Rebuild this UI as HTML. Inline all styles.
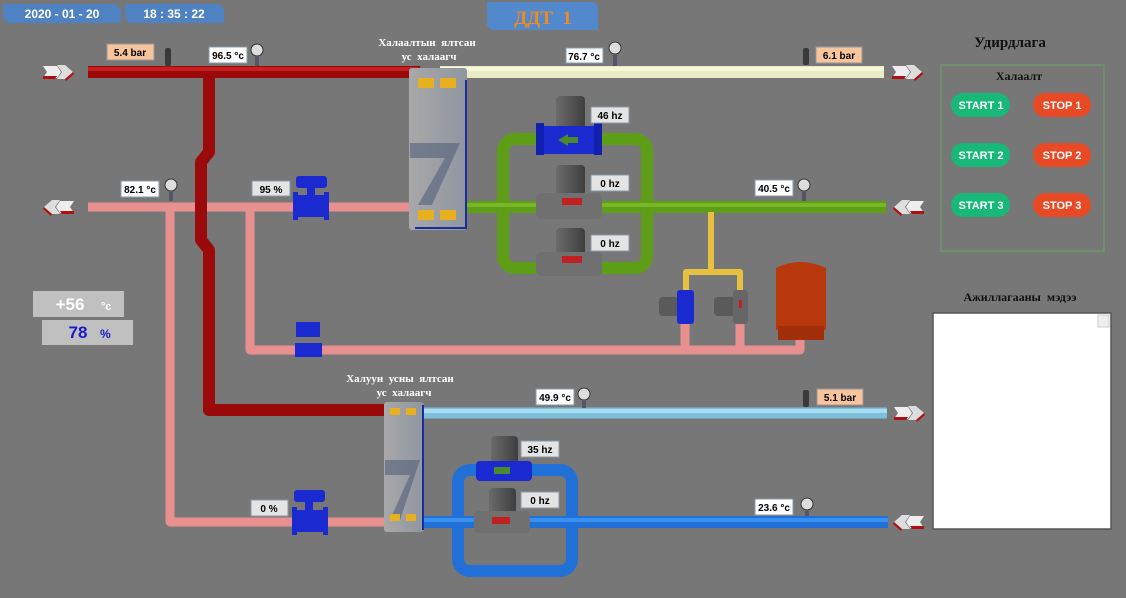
<!DOCTYPE html>
<html><head><meta charset="utf-8"><style>
html,body{margin:0;padding:0;background:#777;}
svg{display:block}
text{font-family:"Liberation Sans",sans-serif}
.s{font-family:"Liberation Serif",serif;font-weight:bold}
</style></head><body>
<svg width="1126" height="598" viewBox="0 0 1126 598" xmlns="http://www.w3.org/2000/svg">
<defs>
<linearGradient id="hx" x1="0" y1="0" x2="1" y2="0"><stop offset="0" stop-color="#a8a8a8"/><stop offset="1" stop-color="#8f96a0"/></linearGradient>
<linearGradient id="cyl" x1="0" y1="0" x2="1" y2="0"><stop offset="0" stop-color="#6a6a6a"/><stop offset="0.5" stop-color="#555"/><stop offset="1" stop-color="#3e3e3e"/></linearGradient>
<g id="ar">
<path d="M0 -6 H14 L18 0 L14 6 H0 L4 0Z" fill="#eee"/>
<path d="M14 -7 H22 L30 0 L22 7 H14 L19 0Z" fill="#ddd"/>
<path d="M0 4 H14 L12 7 H0Z" fill="#b01010"/>
<path d="M22 7 L30 0 L31 2 L23 9Z" fill="#b01010"/>
</g>
</defs>
<rect width="1126" height="598" fill="#777"/>

<path d="M3 4 H116 L121 9 V23 H8 L3 18Z" fill="#4f82c2"/>
<text x="62" y="18" text-anchor="middle" font-size="12" font-weight="bold" fill="#fff" xml:space="preserve">2020 - 01 - 20</text>
<path d="M125 4 H220 L224 9 V23 H130 L125 18Z" fill="#4f82c2"/>
<text x="174" y="18" text-anchor="middle" font-size="12" font-weight="bold" fill="#fff" xml:space="preserve">18 : 35 : 22</text>
<path d="M487 2 H594 L598 6 V30 H492 L487 26Z" fill="#5288cc"/>
<text x="543" y="24" text-anchor="middle" font-size="19" font-weight="bold" fill="#f28a1c" class="s" xml:space="preserve">ДДТ  1</text>

<text x="427" y="46" text-anchor="middle" font-size="11" class="s" fill="#fff" xml:space="preserve">Халаалтын  ялтсан</text>
<text x="429" y="60" text-anchor="middle" font-size="11" class="s" fill="#fff" xml:space="preserve">ус  халаагч</text>
<text x="400" y="382" text-anchor="middle" font-size="11" class="s" fill="#fff" xml:space="preserve">Халуун  усны  ялтсан</text>
<text x="404" y="396" text-anchor="middle" font-size="11" class="s" fill="#fff" xml:space="preserve">ус  халаагч</text>

<g stroke="#e89090" stroke-width="9" fill="none" stroke-linejoin="round">
<path d="M88 207 H420"/>
<path d="M170 207 V522 H395"/>
<path d="M250 207 V350 H800 V335"/>
<path d="M685 350 V320"/><path d="M740 350 V320"/>
</g>
<g stroke="#9a0a0a" stroke-width="12" fill="none" stroke-linejoin="round">
<path d="M88 72 H420"/>
<path d="M209 72 V152 L201 162 V240 L209 250 V410 H405"/>
</g>
<path d="M88 69 H418" stroke="#c42020" stroke-width="4"/>
<path d="M440 72 H884" stroke="#e8ecc4" stroke-width="12"/>
<path d="M440 69 H884" stroke="#f6f8dc" stroke-width="4"/>

<g stroke="#5e9e16" stroke-width="12" fill="none" stroke-linejoin="round">
<path d="M445 207 H886"/>
<rect x="503" y="139" width="144" height="129" rx="12"/>
</g>
<path d="M445 205 H886" stroke="#78b828" stroke-width="4"/>
<g stroke="#e8c040" stroke-width="6" fill="none" stroke-linejoin="round"><path d="M711 212 V272"/><path d="M686 295 V272 H740 V295"/></g>

<path d="M405 413 H887" stroke="#7ec0dc" stroke-width="11"/>
<path d="M405 411 H887" stroke="#a8dcf0" stroke-width="4"/>
<g stroke="#2070d8" stroke-width="12" fill="none"><path d="M410 522 H888"/><rect x="458" y="470" width="114" height="101" rx="12"/></g>
<path d="M410 520 H888" stroke="#3a90f0" stroke-width="4"/>

<rect x="409" y="68" width="58" height="162" rx="3" fill="url(#hx)"/>
<path d="M466 80 V228 H415" stroke="#1a2aa0" stroke-width="2" fill="none"/>
<path d="M410 143 H460 L432 205 H418 L445 158 H410Z" fill="#5d6a80" opacity="0.7"/>
<g fill="#e8b020"><rect x="418" y="78" width="16" height="10"/><rect x="440" y="78" width="16" height="10"/><rect x="418" y="210" width="16" height="10"/><rect x="440" y="210" width="16" height="10"/></g>
<rect x="384" y="402" width="40" height="130" rx="3" fill="url(#hx)"/>
<path d="M423 405 V530" stroke="#1a2aa0" stroke-width="2"/>
<path d="M385 460 H420 L400 520 H390 L410 475 H385Z" fill="#5d6a80" opacity="0.7"/>
<g fill="#e8b020"><rect x="390" y="408" width="10" height="7"/><rect x="406" y="408" width="10" height="7"/><rect x="390" y="514" width="10" height="7"/><rect x="406" y="514" width="10" height="7"/></g>

<path d="M776 268 Q800 256 826 268 V330 H776Z" fill="#b8380c"/>
<rect x="778" y="326" width="46" height="14" fill="#a02e08"/>

<rect x="556" y="96" width="29" height="34" rx="4" fill="url(#cyl)"/>
<rect x="536" y="126" width="64" height="28" rx="5" fill="#1a2ad0"/>
<rect x="536" y="123" width="8" height="32" fill="#1220b0"/><rect x="594" y="123" width="8" height="32" fill="#1220b0"/>
<path d="M558 140 L568 134 V146Z M566 137 H578 V143 H566Z" fill="#4a8a2a"/>
<rect x="556" y="165" width="29" height="30" rx="4" fill="url(#cyl)"/>
<rect x="536" y="193" width="66" height="26" rx="5" fill="#707070"/>
<path d="M562 198 H582 V205 H562Z" fill="#c02020"/>
<rect x="556" y="228" width="29" height="28" rx="4" fill="url(#cyl)"/>
<rect x="536" y="252" width="66" height="24" rx="5" fill="#707070"/>
<path d="M562 256 H582 V263 H562Z" fill="#c02020"/>
<rect x="491" y="436" width="27" height="28" rx="4" fill="url(#cyl)"/>
<rect x="476" y="461" width="56" height="20" rx="4" fill="#1a2ad0"/>
<path d="M494 467 H510 V474 H494Z" fill="#4a8a2a"/>
<rect x="489" y="488" width="27" height="26" rx="4" fill="url(#cyl)"/>
<rect x="474" y="511" width="56" height="22" rx="4" fill="#707070"/>
<path d="M492 517 H510 V524 H492Z" fill="#c02020"/>
<rect x="659" y="297" width="20" height="19" rx="4" fill="#5a5a5a"/><rect x="677" y="290" width="17" height="34" rx="3" fill="#1a2ad0"/>
<rect x="714" y="297" width="22" height="19" rx="4" fill="#5a5a5a"/><rect x="733" y="290" width="15" height="34" rx="3" fill="#666"/><rect x="739" y="300" width="3" height="8" fill="#c02020"/>

<g fill="#1a2ad0">
<rect x="294" y="195" width="34" height="22" rx="5"/><rect x="293" y="192" width="5" height="28"/><rect x="324" y="192" width="5" height="28"/>
<rect x="296" y="176" width="31" height="12" rx="3"/><rect x="307" y="186" width="8" height="10"/>
<rect x="296" y="322" width="24" height="15"/><rect x="295" y="343" width="27" height="14"/>
<rect x="293" y="510" width="34" height="22" rx="5"/><rect x="292" y="507" width="5" height="28"/><rect x="323" y="507" width="5" height="28"/>
<rect x="294" y="490" width="31" height="12" rx="3"/><rect x="305" y="500" width="8" height="10"/>
</g>

<!-- arrows -->
<use href="#ar" transform="translate(43,72)"/>
<use href="#ar" transform="translate(892,72)"/>
<use href="#ar" transform="translate(894,413)"/>
<use href="#ar" transform="translate(74,207) scale(-1,1)"/>
<use href="#ar" transform="translate(924,207) scale(-1,1)"/>
<use href="#ar" transform="translate(924,522) scale(-1,1)"/>

<g fill="#ddd" stroke="#333" stroke-width="1">
<circle cx="257" cy="50" r="6"/><circle cx="615" cy="48" r="6"/><circle cx="171" cy="185" r="6"/><circle cx="804" cy="185" r="6"/><circle cx="584" cy="394" r="6"/><circle cx="807" cy="504" r="6"/>
</g>
<g fill="#556"><rect x="255" y="56" width="4" height="10"/><rect x="613" y="54" width="4" height="12"/><rect x="169" y="191" width="4" height="10"/><rect x="802" y="191" width="4" height="10"/><rect x="582" y="400" width="4" height="8"/><rect x="805" y="510" width="4" height="6"/></g>
<g fill="#3a3a3a"><rect x="165" y="48" width="6" height="18" rx="2"/><rect x="803" y="48" width="6" height="17" rx="2"/><rect x="803" y="390" width="6" height="17" rx="2"/></g>

<g font-size="10" font-weight="bold" text-anchor="middle">
<rect x="107" y="44" width="47" height="16" fill="#f8c49c" stroke="#999"/><text x="130" y="56">5.4 bar</text>
<rect x="209" y="47" width="38" height="16" fill="#fff" stroke="#8899aa"/><text x="228" y="59">96.5 °c</text>
<rect x="566" y="48" width="37" height="15" fill="#fff" stroke="#8899aa"/><text x="584" y="60">76.7 °c</text>
<rect x="816" y="47" width="46" height="16" fill="#f8c49c" stroke="#999"/><text x="839" y="59">6.1 bar</text>
<rect x="121" y="181" width="38" height="16" fill="#fff" stroke="#8899aa"/><text x="140" y="193">82.1 °c</text>
<rect x="252" y="181" width="38" height="15" fill="#e4e4e4" stroke="#8899aa"/><text x="271" y="193">95 %</text>
<rect x="591" y="107" width="38" height="16" fill="#e4e4e4" stroke="#8899aa"/><text x="610" y="119">46 hz</text>
<rect x="591" y="175" width="38" height="16" fill="#e4e4e4" stroke="#8899aa"/><text x="610" y="187">0 hz</text>
<rect x="591" y="235" width="38" height="16" fill="#e4e4e4" stroke="#8899aa"/><text x="610" y="247">0 hz</text>
<rect x="755" y="180" width="38" height="16" fill="#fff" stroke="#8899aa"/><text x="774" y="192">40.5 °c</text>
<rect x="536" y="389" width="38" height="16" fill="#fff" stroke="#8899aa"/><text x="555" y="401">49.9 °c</text>
<rect x="817" y="389" width="46" height="16" fill="#f8c49c" stroke="#999"/><text x="840" y="401">5.1 bar</text>
<rect x="521" y="441" width="38" height="16" fill="#e4e4e4" stroke="#8899aa"/><text x="540" y="453">35 hz</text>
<rect x="521" y="492" width="38" height="16" fill="#e4e4e4" stroke="#8899aa"/><text x="540" y="504">0 hz</text>
<rect x="755" y="499" width="38" height="16" fill="#fff" stroke="#8899aa"/><text x="774" y="511">23.6 °c</text>
<rect x="251" y="500" width="37" height="16" fill="#e4e4e4" stroke="#8899aa"/><text x="269" y="512">0 %</text>
</g>

<rect x="33" y="291" width="91" height="26" fill="#c0c0c0"/>
<text x="70" y="310" font-size="17" font-weight="bold" fill="#fff" text-anchor="middle">+56</text><text x="101" y="310" font-size="11" font-weight="bold" fill="#fff">°c</text>
<rect x="42" y="320" width="91" height="25" fill="#c0c0c0"/>
<text x="78" y="338" font-size="17" font-weight="bold" fill="#1a1ac8" text-anchor="middle">78</text><text x="100" y="338" font-size="12" font-weight="bold" fill="#1a1ac8">%</text>

<text x="1010" y="47" text-anchor="middle" font-size="15" class="s" fill="#111">Удирдлага</text>
<rect x="941" y="65" width="163" height="186" fill="none" stroke="#6aa06a" stroke-width="1.2"/>
<text x="1019" y="80" text-anchor="middle" font-size="12" class="s" fill="#111">Халаалт</text>
<g font-size="11" class="s" fill="#fff" text-anchor="middle">
<rect x="951" y="93" width="59" height="24" rx="12" fill="#18b878"/><text x="981" y="109">START 1</text>
<rect x="1033" y="93" width="58" height="24" rx="12" fill="#e84a26"/><text x="1062" y="109">STOP 1</text>
<rect x="951" y="143" width="59" height="24" rx="12" fill="#18b878"/><text x="981" y="159">START 2</text>
<rect x="1033" y="143" width="58" height="24" rx="12" fill="#e84a26"/><text x="1062" y="159">STOP 2</text>
<rect x="951" y="193" width="59" height="24" rx="12" fill="#18b878"/><text x="981" y="209">START 3</text>
<rect x="1033" y="193" width="58" height="24" rx="12" fill="#e84a26"/><text x="1062" y="209">STOP 3</text>
</g>
<text x="1020" y="301" text-anchor="middle" font-size="12" class="s" fill="#111" xml:space="preserve">Ажиллагааны  мэдээ</text>
<rect x="933" y="313" width="178" height="216" fill="#fff" stroke="#555" stroke-width="1.5"/>
<rect x="1098" y="315" width="11" height="12" fill="#eee" stroke="#ccc"/>
</svg>
</body></html>
